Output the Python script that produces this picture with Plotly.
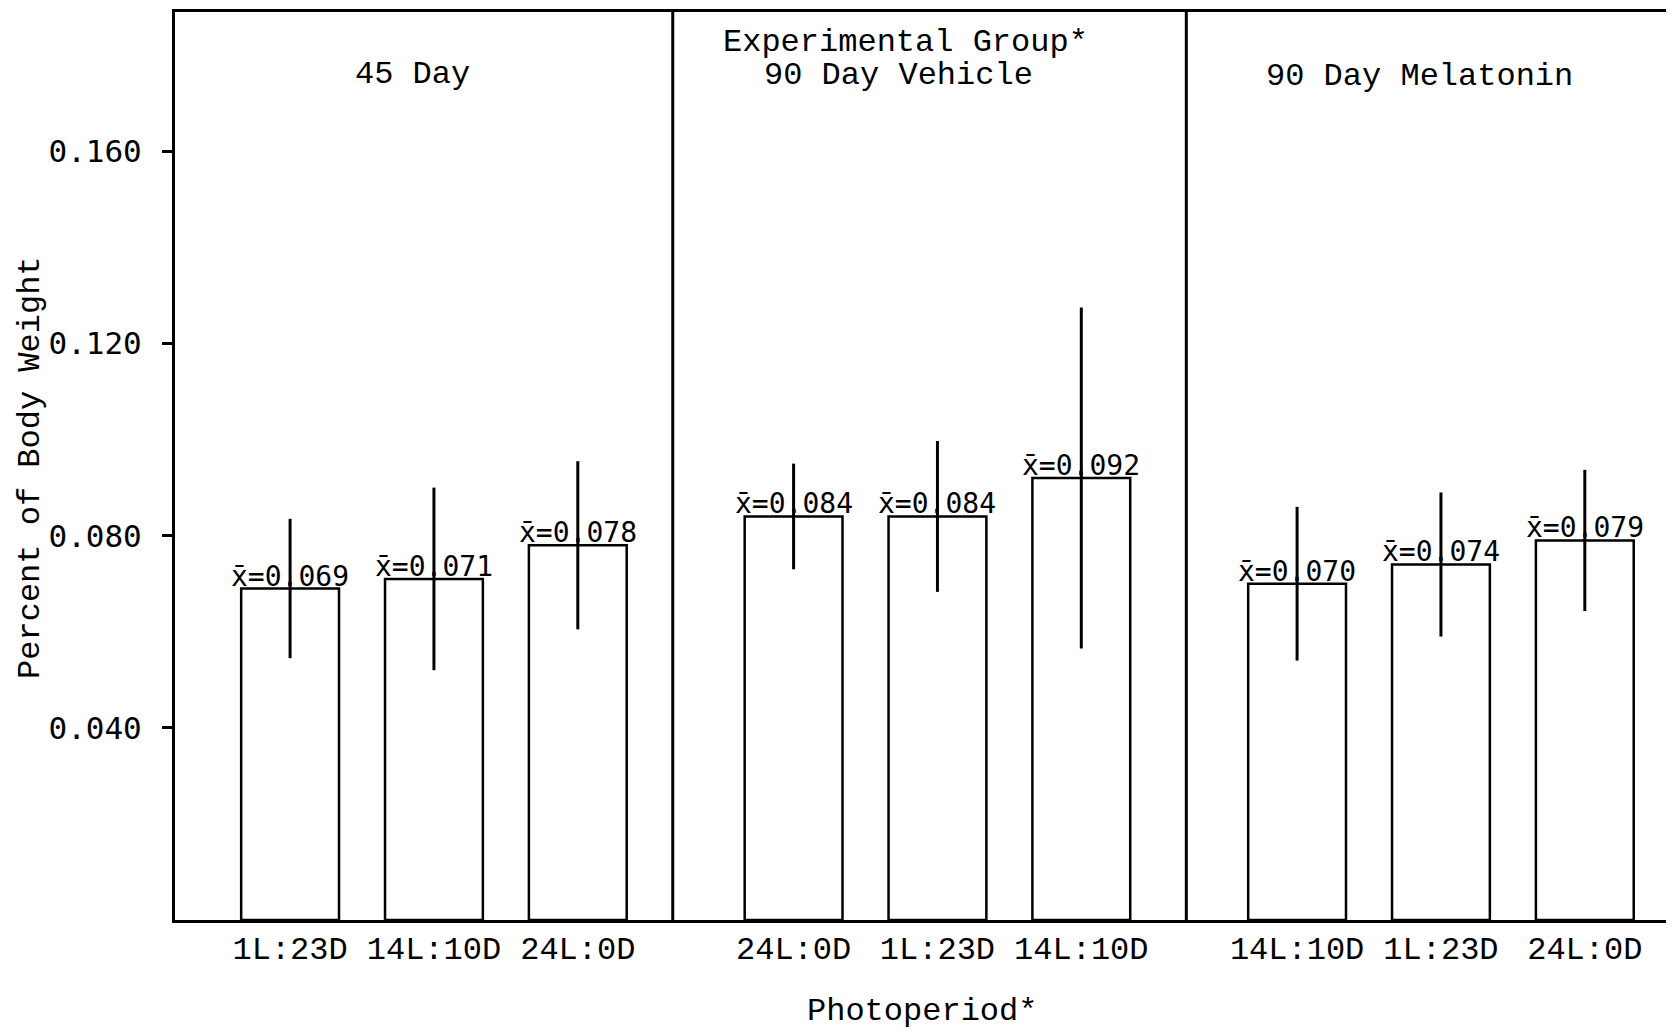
import plotly.graph_objects as go

# ---- data ----
groups = ["45 Day", "90 Day Vehicle", "90 Day Melatonin"]
photoperiods = [
    ["1L:23D", "14L:10D", "24L:0D"],
    ["24L:0D", "1L:23D", "14L:10D"],
    ["14L:10D", "1L:23D", "24L:0D"],
]
means = [
    [0.069, 0.071, 0.078],
    [0.084, 0.084, 0.092],
    [0.070, 0.074, 0.079],
]
errors = [
    [0.0145, 0.019, 0.0175],
    [0.011, 0.0157, 0.0355],
    [0.016, 0.015, 0.0147],
]
y_ticks = [0.040, 0.080, 0.120, 0.160]

# ---- layout helpers ----
GROUP_STEP = 3.5
xs, ys, es, labels, texts = [], [], [], [], []
for g in range(len(groups)):
    for i in range(3):
        xs.append(g * GROUP_STEP + i)
        ys.append(means[g][i])
        es.append(errors[g][i])
        labels.append(photoperiods[g][i])
        texts.append("x\u0304=" + f"{means[g][i]:.3f}")

SERIF = "Liberation Mono"
SANS = "DejaVu Sans Mono"

fig = go.Figure()
fig.add_trace(go.Bar(
    x=xs, y=ys, width=0.68,
    marker=dict(color="white", line=dict(color="black", width=2.5)),
    error_y=dict(type="data", array=es, visible=True, thickness=3, width=0, color="black"),
    showlegend=False,
))

# mean labels sitting on the bar tops
for x, y, t in zip(xs, ys, texts):
    fig.add_annotation(x=x, y=y, text=t, showarrow=False, xanchor="center",
                       yanchor="bottom", yshift=-6,
                       font=dict(family=SANS, size=28, color="black"))

# panel titles
title_font = dict(family=SERIF, size=32, color="black")
fig.add_annotation(x=0.85, y=0.1759, text=groups[0], showarrow=False,
                   xanchor="center", yanchor="middle", font=title_font)
fig.add_annotation(x=4.28, y=0.1827, text="Experimental Group*", showarrow=False,
                   xanchor="center", yanchor="middle", font=title_font)
fig.add_annotation(x=4.23, y=0.1757, text=groups[1], showarrow=False,
                   xanchor="center", yanchor="middle", font=title_font)
fig.add_annotation(x=7.85, y=0.1755, text=groups[2], showarrow=False,
                   xanchor="center", yanchor="middle", font=title_font)

# axis titles
fig.add_annotation(xref="paper", yref="paper", x=-0.096, y=0.498, textangle=-90,
                   xanchor="center", yanchor="middle",
                   text="Percent of Body Weight", showarrow=False, font=title_font)
fig.add_annotation(xref="paper", yref="paper", x=0.498, y=-0.101,
                   xanchor="center", yanchor="middle",
                   text="Photoperiod*", showarrow=False, font=title_font)

# group dividers
for xd in [2.66, 6.23]:
    fig.add_shape(type="line", xref="x", yref="paper", x0=xd, x1=xd, y0=0, y1=1,
                  line=dict(color="black", width=3))

# page body has an 8px margin; compensate so the plot area lands where the reference has it
fig.update_layout(
    width=1666, height=1022,
    margin=dict(l=167, r=0, t=4, b=110),
    paper_bgcolor="white", plot_bgcolor="white",
    xaxis=dict(range=[-0.8, 9.62], tickvals=xs, ticktext=labels,
               showline=True, linecolor="black", linewidth=3, mirror=True,
               showgrid=False, zeroline=False, ticks="",
               tickfont=dict(family=SERIF, size=32, color="black"),
               ticklabelstandoff=-2),
    yaxis=dict(range=[0, 0.189], tickvals=y_ticks, ticktext=[f"{v:.3f}" for v in y_ticks],
               showline=True, linecolor="black", linewidth=3,
               showgrid=False, zeroline=False, ticks="outside", ticklen=10,
               tickwidth=2.5, tickcolor="black",
               tickfont=dict(family=SANS, size=31, color="black"),
               ticklabelstandoff=14, automargin=False),
)

fig.write_html("out.html")
